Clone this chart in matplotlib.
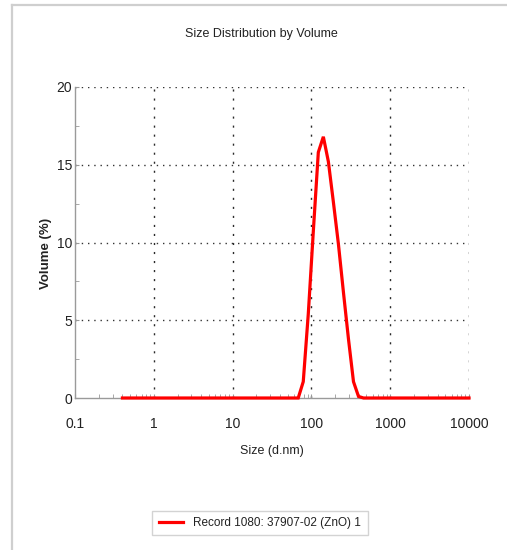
import matplotlib
matplotlib.use("Agg")
import matplotlib.pyplot as plt
from matplotlib.lines import Line2D
from matplotlib.ticker import FixedLocator, NullFormatter

# particle size distribution (volume %) for the ZnO sample
size_nm = [0.4, 68.06, 78.82, 91.28, 105.7, 122.4, 141.8, 164.2, 190.1,
           220.2, 255.0, 295.3, 342.0, 396.1, 458.7, 10000]
volume_pct = [0, 0, 1.05, 5.4, 10.7, 15.8, 16.8, 15.2, 12.6,
              9.9, 6.8, 3.8, 1.05, 0.1, 0, 0]

x_ticks = [0.1, 1, 10, 100, 1000, 10000]
x_tick_labels = ["0.1", "1", "10", "100", "1000", "10000"]
y_ticks = [0, 5, 10, 15, 20]
record_label = "Record 1080: 37907-02 (ZnO) 1"

plt.rcParams["font.family"] = ["Liberation Sans", "DejaVu Sans"]

W, H = 507, 550
fig = plt.figure(figsize=(W / 100, H / 100), dpi=100)
fig.patch.set_facecolor("white")

ax_l, ax_r, ax_t, ax_b = 75, 469, 87, 398
ax = fig.add_axes([ax_l / W, 1 - ax_b / H, (ax_r - ax_l) / W, (ax_b - ax_t) / H])

line, = ax.plot(size_nm, volume_pct, color="#ff0000", lw=2.3,
                solid_joinstyle="miter", zorder=5, clip_on=False)

ax.set_xscale("log")
ax.set_xlim(0.1, 10000)
ax.set_ylim(0, 20)

# dotted grid
for yv in y_ticks[1:]:
    ax.axhline(yv, color="#333333", lw=1.0, ls=(0, (1, 3.5)), zorder=1)
for xv in x_ticks[1:]:
    ax.axvline(xv, color="#2a2a2a", lw=1.0, ls=(0, (1.5, 5)), zorder=1)

for s in ["top", "right"]:
    ax.spines[s].set_visible(False)
for s in ["left", "bottom"]:
    ax.spines[s].set_color("#9a9a9a")
    ax.spines[s].set_linewidth(1.0)

ax.set_xticks(x_ticks)
ax.set_xticklabels(x_tick_labels)
ax.xaxis.set_minor_locator(FixedLocator(
    [m * 10.0 ** e for e in range(-1, 4) for m in range(2, 10)]))
ax.xaxis.set_minor_formatter(NullFormatter())
ax.set_yticks(y_ticks)
ax.set_yticks([2.5, 7.5, 12.5, 17.5], minor=True)

ax.tick_params(axis="both", which="major", length=3, direction="in",
               color="#9a9a9a", labelsize=10, labelcolor="#222222")
ax.tick_params(axis="x", which="major", pad=14)
ax.tick_params(axis="y", which="major", pad=2)
ax.tick_params(axis="both", which="minor", length=3, direction="in",
               color="#9a9a9a")

ax.set_xlabel("Size (d.nm)", fontsize=9, color="#222222", labelpad=10)
ax.set_ylabel("Volume (%)", fontsize=9.5, color="#222222", fontweight="bold")
ax.yaxis.set_label_coords(-0.058, 0.465)

fig.text(261.5 / W, 1 - 34 / H, "Size Distribution by Volume", ha="center",
         va="center", fontsize=9, color="#222222")

leg = fig.legend([line], [record_label], loc="center",
                 bbox_to_anchor=(260 / W, 1 - 523 / H), frameon=True,
                 fancybox=False, handlelength=2.0, fontsize=8.5,
                 borderpad=0.55, handletextpad=0.9)
leg.get_frame().set_edgecolor("#c8c8c8")
leg.get_frame().set_linewidth(1.0)
for t in leg.get_texts():
    t.set_color("#222222")

# panel border along the top and left edges
fig.add_artist(Line2D([12 / W, 1], [1 - 5 / H, 1 - 5 / H], color="#cfcfcf", lw=1.6))
fig.add_artist(Line2D([12 / W, 12 / W], [0, 1 - 5 / H], color="#cfcfcf", lw=1.6))

fig.savefig("out.png", dpi=100)
